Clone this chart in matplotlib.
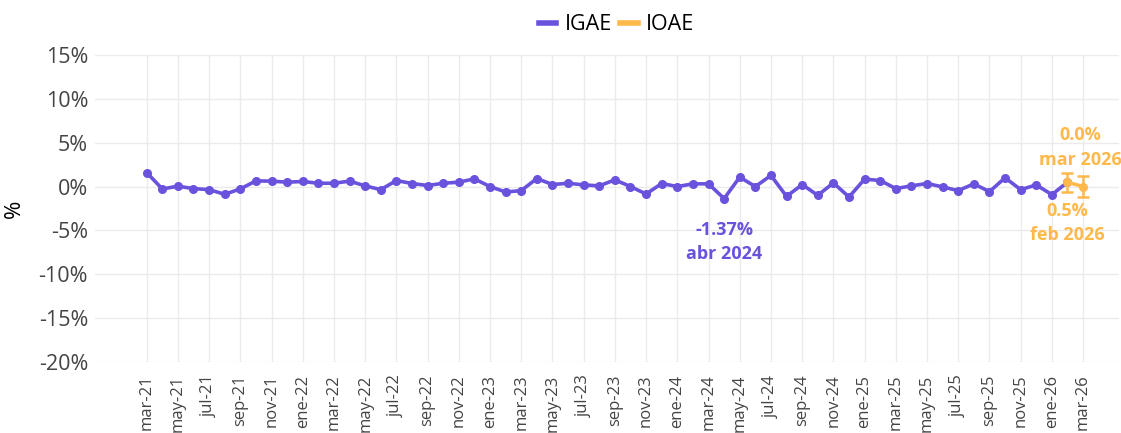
import numpy as np
import matplotlib
matplotlib.use("Agg")
import matplotlib.pyplot as plt
from matplotlib.lines import Line2D

plt.rcParams["font.family"] = ["Open Sans", "DejaVu Sans"]

# meses (abreviaturas en español)
MESES = ["ene", "feb", "mar", "abr", "may", "jun",
         "jul", "ago", "sep", "oct", "nov", "dic"]

# IGAE, variación mensual (%), mar-2021 a ene-2026
igae = [
    1.60, -0.27, 0.04, -0.23, -0.35, -0.88, -0.27, 0.65, 0.62, 0.50,
    0.58, 0.38, 0.38, 0.62, 0.08, -0.35, 0.69, 0.35, 0.12, 0.38,
    0.50, 0.88, 0.00, -0.62, -0.46, 0.92, 0.23, 0.38, 0.19, 0.08,
    0.77, 0.00, -0.85, 0.35, 0.00, 0.31, 0.31, -1.37, 1.08, 0.00,
    1.27, -1.12, 0.23, -1.00, 0.42, -1.19, 0.85, 0.69, -0.23, 0.08,
    0.35, -0.04, -0.46, 0.31, -0.58, 1.00, -0.35, 0.19, -0.92,
]

# IOAE (estimación oportuna), feb-2026 y mar-2026
ioae = [0.5, 0.0]
ioae_err = [1.1, 1.2]

PURPLE = "#6a52dd"
ORANGE = "#ffb84a"

n_total = len(igae) + len(ioae)
labels = []
for k in range(n_total):
    m = (2 + k) % 12
    y = 21 + (2 + k) // 12
    labels.append(f"{MESES[m]}-{y:02d}")

x_igae = np.arange(len(igae))
x_ioae = np.arange(len(igae), n_total)

fig = plt.figure(figsize=(11.21, 4.33), dpi=100)
ax = fig.add_axes([95 / 1121, 1 - 362 / 433, (1119 - 95) / 1121, (362 - 55) / 433])

# linea IGAE (se une al primer punto del IOAE)
ax.plot(list(x_igae) + [x_ioae[0]], igae + [ioae[0]], color=PURPLE, lw=2.6,
        marker="o", ms=5.5, zorder=3)
ax.errorbar(x_ioae, ioae, yerr=ioae_err, color=ORANGE, lw=2.6, marker="o",
            ms=5.5, capsize=4.5, elinewidth=1.8, capthick=1.8, zorder=4)

# anotaciones
txt = dict(ha="center", fontsize=13, fontweight="bold", linespacing=1.45,
           textcoords="offset points")
i_min = int(np.argmin(igae))
ax.annotate(f"{igae[i_min]:.2f}%\n{labels[i_min].replace('-', ' 20')}",
            (x_igae[i_min], igae[i_min]), xytext=(0, -16), va="top",
            color=PURPLE, **txt)
ax.annotate(f"{ioae[0]:.1f}%\n{labels[-2].replace('-', ' 20')}",
            (x_ioae[0], ioae[0]), xytext=(0, -14), va="top",
            color=ORANGE, **txt)
ax.annotate(f"{ioae[1]:.1f}%\n{labels[-1].replace('-', ' 20')}",
            (x_ioae[1], ioae[1]), xytext=(-2, 13), va="bottom",
            color=ORANGE, **txt)

ax.set_xlim(-3.31, 62.3)
ax.set_ylim(-20, 15)
ax.set_yticks(np.arange(-20, 16, 5))
ax.set_yticklabels([f"{v}%" for v in range(-20, 16, 5)])
ax.set_xticks(np.arange(0, n_total, 2))
ax.set_xticklabels(labels[::2], rotation=90)
ax.tick_params(axis="y", length=0, pad=5, labelsize=15.5, labelcolor="#444444")
ax.tick_params(axis="x", length=0, pad=9, labelsize=12, labelcolor="#444444")
ax.set_ylabel("%", fontsize=16, labelpad=10)
ax.grid(True, color="#ebebeb", lw=1)
ax.set_axisbelow(True)
for s in ax.spines.values():
    s.set_visible(False)

handles = [Line2D([], [], color=PURPLE, lw=4), Line2D([], [], color=ORANGE, lw=4)]
fig.legend(handles, ["IGAE", "IOAE"], loc="center", bbox_to_anchor=(0.55, 1 - 25 / 433),
           ncol=2, frameon=False, fontsize=15.5, handlelength=0.8, handletextpad=0.4,
           columnspacing=0.4)

fig.savefig("out.png", dpi=100)
